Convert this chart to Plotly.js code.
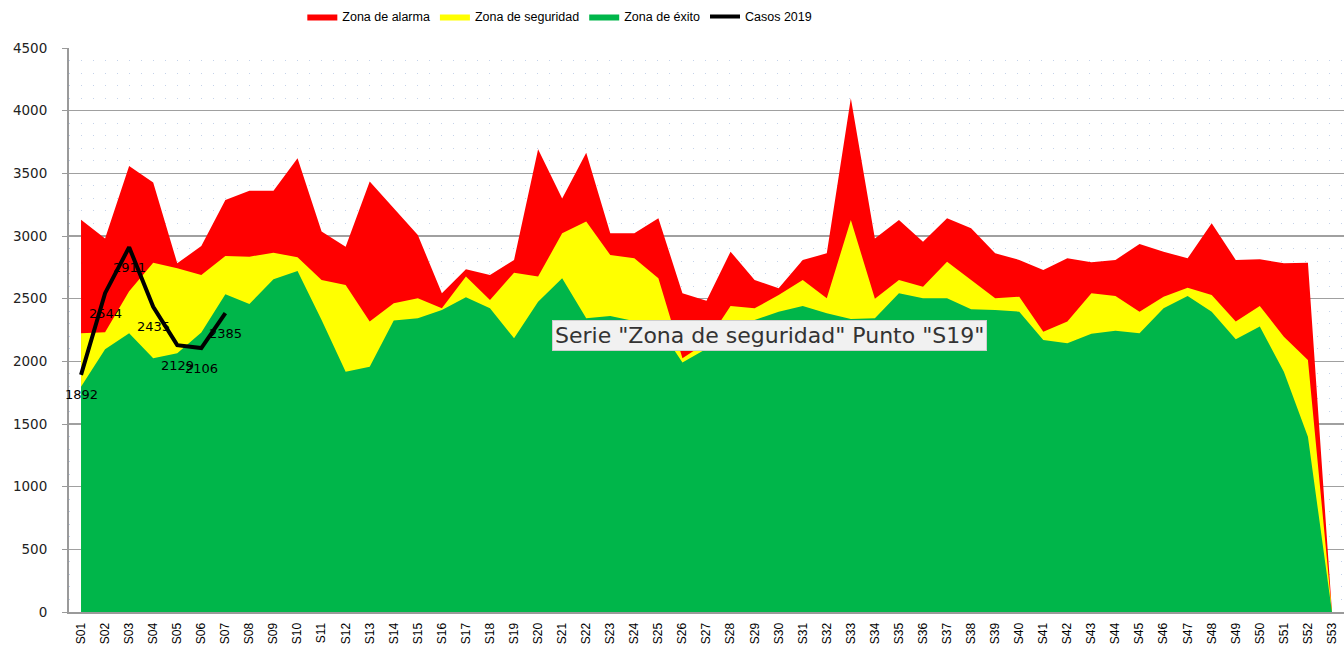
<!DOCTYPE html>
<html>
<head>
<meta charset="utf-8">
<script src="https://cdn.plot.ly/plotly-3.0.1.min.js"></script>
<style>html,body{margin:0;padding:0;background:#fff;}#chart{width:1344px;height:646px;}</style>
</head>
<body>
<div id="chart"></div>
<script>
var weeks = ["S01","S02","S03","S04","S05","S06","S07","S08","S09","S10","S11","S12","S13","S14","S15","S16","S17","S18","S19","S20","S21","S22","S23","S24","S25","S26","S27","S28","S29","S30","S31","S32","S33","S34","S35","S36","S37","S38","S39","S40","S41","S42","S43","S44","S45","S46","S47","S48","S49","S50","S51","S52","S53"];

var zonaAlarma = [3130,2981,3559,3426,2782,2920,3287,3362,3362,3620,3035,2915,3434,3221,3008,2543,2734,2689,2809,3692,3300,3665,3022,3022,3141,2543,2484,2875,2649,2583,2809,2862,4099,2980,3128,2955,3141,3061,2862,2809,2729,2822,2790,2809,2936,2875,2822,3101,2809,2814,2782,2787,0];

var zonaSeguridad = [2224,2232,2560,2787,2742,2689,2840,2835,2867,2830,2649,2609,2317,2463,2503,2423,2676,2489,2707,2676,3022,3115,2849,2822,2662,2024,2150,2441,2423,2529,2649,2503,3128,2500,2649,2596,2795,2649,2503,2516,2237,2317,2543,2521,2396,2516,2588,2529,2317,2441,2197,2011,0];

var zonaExito = [1798,2096,2224,2024,2064,2230,2535,2458,2654,2721,2330,1917,1957,2325,2343,2410,2511,2423,2184,2476,2662,2343,2362,2320,2280,1990,2100,2280,2330,2396,2441,2383,2338,2343,2543,2503,2503,2415,2410,2396,2170,2144,2220,2245,2224,2423,2521,2396,2176,2277,1917,1399,0];

var casosWeeks = ["S01","S02","S03","S04","S05","S06","S07"];
var casos2019 = [1892,2544,2911,2435,2129,2106,2385];

var yTicks = [0,500,1000,1500,2000,2500,3000,3500,4000,4500];

function area(name, vals, color) {
  return {
    type: "scatter", mode: "lines", name: name, x: weeks, y: vals,
    fill: "tozeroy", fillcolor: color, line: {width: 0, color: color},
    hoverinfo: "skip"
  };
}

var traces = [
  area("Zona de alarma", zonaAlarma, "#FF0000"),
  area("Zona de seguridad", zonaSeguridad, "#FFFF00"),
  area("Zona de éxito", zonaExito, "#00B64A"),
  {
    type: "scatter", mode: "lines", name: "Casos 2019",
    x: casosWeeks, y: casos2019,
    line: {color: "#000000", width: 4},
    hoverinfo: "skip"
  }
];

var labelAnnots = casosWeeks.map(function (w, i) {
  return {
    xref: "x", yref: "y", x: w, y: casos2019[i], text: String(casos2019[i]),
    showarrow: false, xanchor: "center", yanchor: "middle", yshift: -20,
    font: {family: "DejaVu Sans", size: 13, color: "#000"}
  };
});

var layout = {
  width: 1344, height: 646,
  margin: {l: 69, r: 0, t: 48, b: 34},
  paper_bgcolor: "#ffffff", plot_bgcolor: "#ffffff",
  showlegend: true,
  legend: {
    orientation: "h", x: 0.183, xanchor: "left", y: 1.055, yanchor: "middle",
    font: {family: "Liberation Sans", size: 12.5, color: "#000"},
    itemwidth: 30, traceorder: "normal"
  },
  xaxis: {
    type: "category", categoryorder: "array", categoryarray: weeks,
    range: [-0.5, 52.5], tickangle: -90,
    tickfont: {family: "Liberation Sans", size: 12, color: "#000"},
    showgrid: false, showline: true, linecolor: "#9a9a9a", linewidth: 2,
    ticks: "", ticklabelstandoff: 4, automargin: false, fixedrange: true
  },
  yaxis: {
    range: [0, 4500], tickvals: yTicks, ticktext: yTicks.map(String),
    tickfont: {family: "DejaVu Sans", size: 13.5, color: "#222"},
    showgrid: true, gridcolor: "#a0a0a0", gridwidth: 1.5,
    zeroline: false, showline: true, linecolor: "#9a9a9a", linewidth: 2,
    ticks: "outside", ticklen: 5, tickcolor: "#9a9a9a", ticklabelstandoff: 12,
    minor: {dtick: 100, showgrid: true, gridcolor: "#c4d2ea", gridwidth: 1, griddash: "1px,11px", ticks: ""},
    automargin: false, fixedrange: true
  },
  annotations: labelAnnots.concat([{
    xref: "paper", yref: "paper", x: 0.5495, y: 0.491, xanchor: "center", yanchor: "middle",
    text: 'Serie "Zona de seguridad" Punto "S19"', showarrow: false,
    font: {family: "DejaVu Sans", size: 22, color: "#333"},
    bgcolor: "#f1f1f1", bordercolor: "#cfcfcf", borderwidth: 1, borderpad: 2
  }])
};

Plotly.newPlot("chart", traces, layout, {displayModeBar: false, staticPlot: true});
</script>
</body>
</html>
